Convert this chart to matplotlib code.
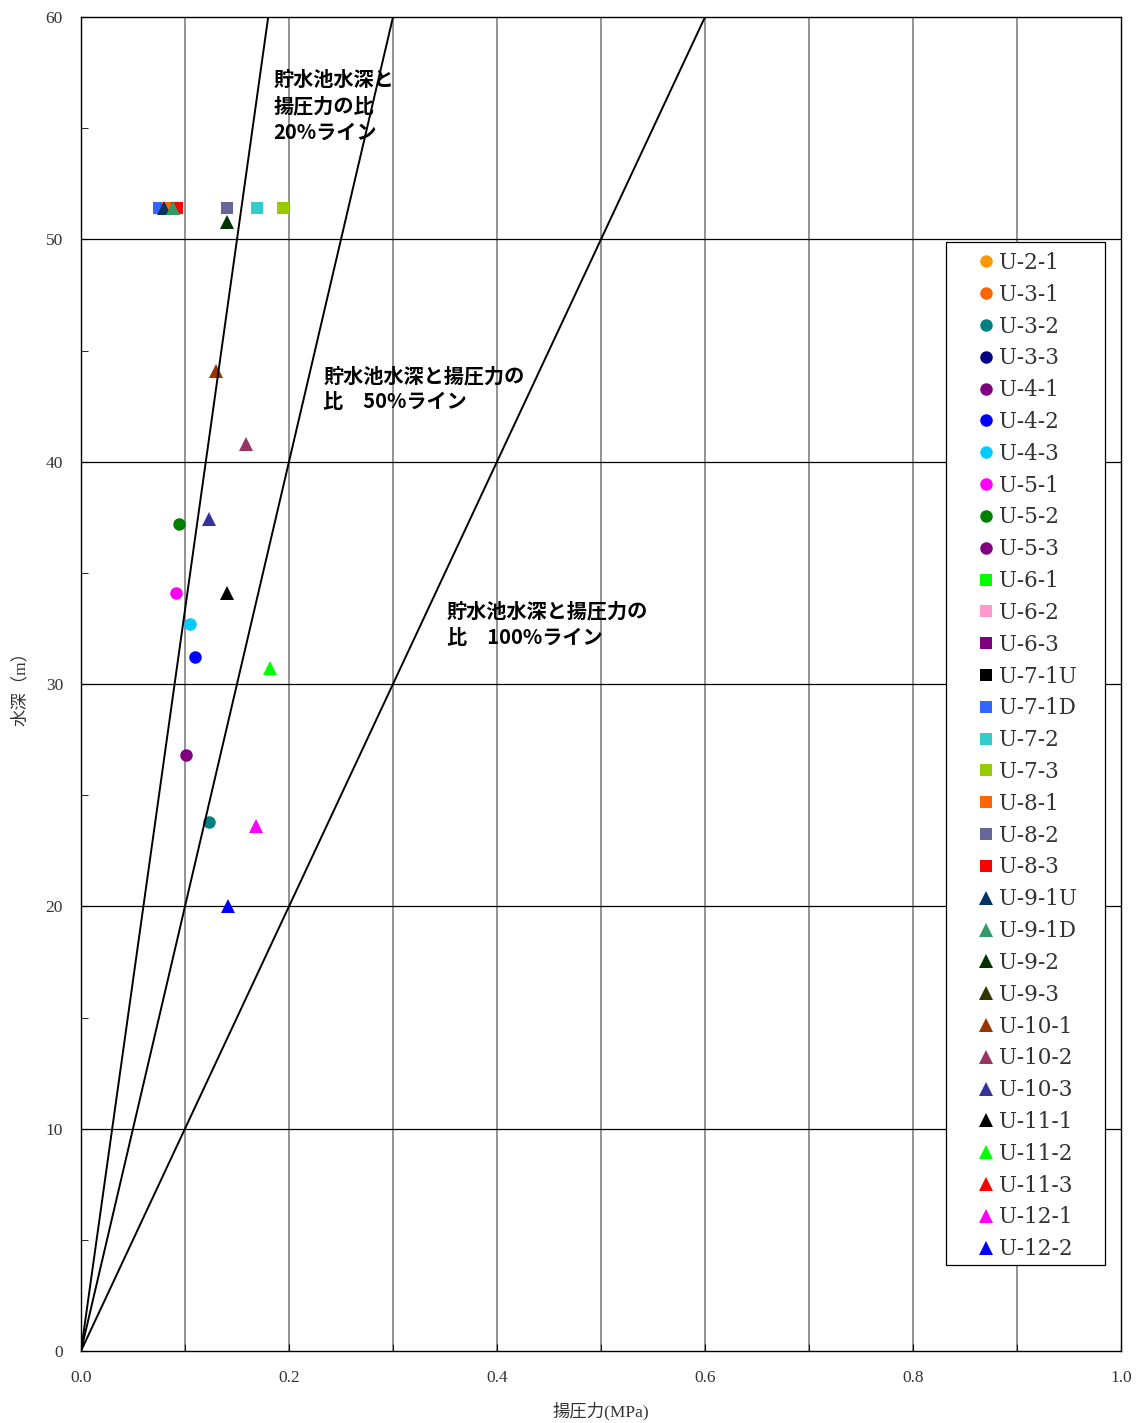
import matplotlib
matplotlib.use('Agg')
import matplotlib.pyplot as plt
from matplotlib.patches import Rectangle
import numpy as np

plt.rcParams['font.family'] = ['Liberation Serif', 'Noto Sans CJK JP']

# 観測点ごとの揚圧力 (MPa) と水深 (m)
labels = ['U-2-1', 'U-3-1', 'U-3-2', 'U-3-3', 'U-4-1', 'U-4-2', 'U-4-3', 'U-5-1',
          'U-5-2', 'U-5-3', 'U-6-1', 'U-6-2', 'U-6-3', 'U-7-1U', 'U-7-1D', 'U-7-2',
          'U-7-3', 'U-8-1', 'U-8-2', 'U-8-3', 'U-9-1U', 'U-9-1D', 'U-9-2', 'U-9-3',
          'U-10-1', 'U-10-2', 'U-10-3', 'U-11-1', 'U-11-2', 'U-11-3', 'U-12-1', 'U-12-2']
markers = ['o'] * 10 + ['s'] * 10 + ['^'] * 12
colors = ['#FF9900', '#FF6600', '#008080', '#000080', '#800080', '#0000FF', '#00CCFF', '#FF00FF',
          '#008000', '#800080', '#00FF00', '#FF99CC', '#800080', '#000000', '#3366FF', '#33CCCC',
          '#99CC00', '#FF6600', '#666699', '#FF0000', '#003366', '#339966', '#003300', '#333300',
          '#993300', '#993366', '#333399', '#000000', '#00FF00', '#FF0000', '#FF00FF', '#0000FF']
uplift = [None, None, 0.123, None, 0.101, 0.110, 0.105, 0.091,
          0.094, None, None, None, None, None, 0.075, 0.169,
          0.194, 0.084, 0.140, 0.092, 0.080, 0.088, 0.140, None,
          0.130, 0.159, 0.123, 0.140, 0.182, None, 0.168, 0.141]
depth = [None, None, 23.8, None, 26.8, 31.2, 32.7, 34.1,
         37.2, None, None, None, None, None, 51.4, 51.4,
         51.4, 51.4, 51.4, 51.4, 51.4, 51.4, 50.8, None,
         44.1, 40.8, 37.4, 34.1, 30.7, None, 23.6, 20.0]

# 比率ライン (水深60m での揚圧力)
ratio_x = [0.18, 0.30, 0.60]
ratio_top = 60

fig = plt.figure(figsize=(11.39, 14.23), dpi=100)
ax = fig.add_axes([81 / 1139, 1 - 1351 / 1423, 1040 / 1139, 1334 / 1423])

for lab, m, c, x, y in zip(labels, markers, colors, uplift, depth):
    xs = [] if x is None else [x]
    ys = [] if y is None else [y]
    ms = 9.5 if m == '^' else 9
    ax.plot(xs, ys, linestyle='none', marker=m, color=c, markersize=ms,
            markeredgewidth=0, label=lab, zorder=3)

for rx in ratio_x:
    ax.plot([0, rx], [0, ratio_top], color='black', linewidth=1.4, zorder=4)

ax.set_xlim(0, 1.0)
ax.set_ylim(0, 60)
ax.set_xticks(np.arange(0, 1.01, 0.2))
ax.set_xticks(np.arange(0, 1.01, 0.1), minor=True)
ax.set_xticklabels([f'{v:.1f}' for v in np.arange(0, 1.01, 0.2)])
ax.set_yticks(np.arange(0, 61, 10))
ax.set_yticks(np.arange(0, 61, 5), minor=True)
ax.tick_params(axis='both', which='both', direction='in', labelsize=12.5, colors='#333333')
ax.tick_params(axis='x', which='major', pad=14, length=5)
ax.tick_params(axis='x', which='minor', length=5)
ax.tick_params(axis='y', which='major', pad=13, length=5)
ax.tick_params(axis='y', which='minor', length=5)
ax.tick_params(axis='both', which='both', color='black')

for gx in np.arange(0.1, 1.0, 0.1):
    ax.axvline(gx, color='#808080', linewidth=1.2, zorder=1)
for gy in np.arange(10, 60, 10):
    ax.axhline(gy, color='black', linewidth=0.9, zorder=1)

for sp in ax.spines.values():
    sp.set_linewidth(1.0)

ax.set_xlabel('揚圧力(MPa)', fontsize=12.5, color='#333333', labelpad=11)
ax.set_ylabel('水深（m）', fontsize=12.5, color='#333333', labelpad=12)

txt_font = dict(family=['Noto Sans CJK JP'], fontsize=14.5, fontweight='bold',
                va='top', ha='left', linespacing=1.3)
ax.text(0.185, 57.65, '貯水池水深と\n揚圧力の比\n20%ライン', **txt_font)
ax.text(0.233, 44.35, '貯水池水深と揚圧力の\n比　50%ライン', **txt_font)
ax.text(0.352, 33.75, '貯水池水深と揚圧力の\n比　100%ライン', **txt_font)

# 凡例の枠
ax.add_patch(Rectangle((0.8317, 0.0645), 0.9846 - 0.8317, 0.8313 - 0.0645,
                       transform=ax.transAxes, facecolor='white', edgecolor='black',
                       linewidth=0.9, zorder=5))
leg = ax.legend(loc='upper left', bbox_to_anchor=(0.8599, 0.8239), borderaxespad=0,
                prop={'family': 'DejaVu Serif', 'size': 15.5}, handlelength=1.0,
                handletextpad=0.1, labelspacing=0.456, borderpad=0, frameon=False)
leg.set_zorder(6)
for t in leg.get_texts():
    t.set_color('#333333')

fig.savefig('out.png', dpi=100)
